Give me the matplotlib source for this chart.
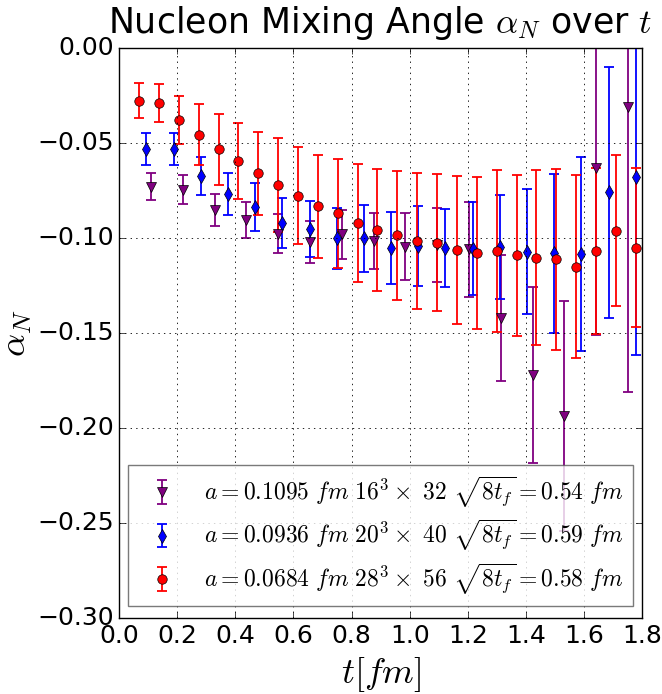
import matplotlib
matplotlib.use('Agg')
import matplotlib.pyplot as plt

plt.style.use('classic')
plt.rcParams['mathtext.fontset'] = 'cm'
plt.rcParams['font.family'] = ['DejaVu Sans']
plt.rcParams['axes.unicode_minus'] = True

# a = 0.1095 fm ensemble
t_purple = [0.1095, 0.219, 0.3285, 0.438, 0.5475, 0.657, 0.7665, 0.876, 0.9855,
            1.095, 1.2045, 1.314, 1.4235, 1.533, 1.6425, 1.752]
y_purple = [-0.0728, -0.0744, -0.0851, -0.0904, -0.0976, -0.1018, -0.0979, -0.1014,
            -0.1044, -0.1037, -0.1058, -0.1419, -0.1720, -0.1934, -0.0628, -0.0307]
e_purple = [0.0071, 0.0075, 0.0086, 0.0095, 0.0104, 0.0110, 0.0128, 0.0147, 0.0178,
            0.0195, 0.0250, 0.0330, 0.0465, 0.0606, 0.0880, 0.1500]

# a = 0.0936 fm ensemble
t_blue = [0.0936, 0.1872, 0.2808, 0.3744, 0.468, 0.5616, 0.6552, 0.7488, 0.8424, 0.936,
          1.0296, 1.1232, 1.2168, 1.3104, 1.404, 1.4976, 1.5912, 1.6848, 1.7784]
y_blue = [-0.0530, -0.0530, -0.0672, -0.0767, -0.0835, -0.0919, -0.0951, -0.1000, -0.1000,
          -0.1050, -0.1040, -0.1050, -0.1054, -0.1046, -0.1070, -0.1079, -0.1084, -0.0758,
          -0.0676]
e_blue = [0.0083, 0.0085, 0.0099, 0.0112, 0.0127, 0.0133, 0.0148, 0.0160, 0.0177, 0.0190,
          0.0210, 0.0205, 0.0244, 0.0275, 0.0330, 0.0420, 0.0510, 0.0660, 0.0940]

# a = 0.0684 fm ensemble
t_red = [0.0684, 0.1368, 0.2052, 0.2736, 0.342, 0.4104, 0.4788, 0.5472, 0.6156, 0.684,
         0.7524, 0.8208, 0.8892, 0.9576, 1.026, 1.0944, 1.1628, 1.2312, 1.2996, 1.368,
         1.4364, 1.5048, 1.5732, 1.6416, 1.71, 1.7784]
y_red = [-0.0276, -0.0290, -0.0377, -0.0455, -0.0532, -0.0595, -0.0658, -0.0721, -0.0776,
         -0.0832, -0.0868, -0.0918, -0.0955, -0.0985, -0.1016, -0.1023, -0.1060, -0.1079,
         -0.1067, -0.1090, -0.1102, -0.1111, -0.1149, -0.1067, -0.0960, -0.1050]
e_red = [0.0092, 0.0100, 0.0128, 0.0160, 0.0185, 0.0200, 0.0220, 0.0247, 0.0255, 0.0273,
         0.0286, 0.0310, 0.0320, 0.0340, 0.0358, 0.0360, 0.0390, 0.0400, 0.0428, 0.0425,
         0.0460, 0.0475, 0.0480, 0.0435, 0.0398, 0.0418]

labels = [r'$a=0.1095\ fm\ 16^3\times\ 32\ \sqrt{8t_f}=0.54\ fm$',
          r'$a=0.0936\ fm\ 20^3\times\ 40\ \sqrt{8t_f}=0.59\ fm$',
          r'$a=0.0684\ fm\ 28^3\times\ 56\ \sqrt{8t_f}=0.58\ fm$']

x_ticks = [0.0, 0.2, 0.4, 0.6, 0.8, 1.0, 1.2, 1.4, 1.6, 1.8]
y_ticks = [0.00, -0.05, -0.10, -0.15, -0.20, -0.25, -0.30]

fig = plt.figure(figsize=(6.62, 6.94), dpi=100, facecolor='white')
ax = fig.add_axes([0.1801, 0.1091, 0.7897, 0.8213])

series = [(t_purple, y_purple, e_purple, 'v', 'purple', 7.5),
          (t_blue, y_blue, e_blue, 'd', 'blue', 7),
          (t_red, y_red, e_red, 'o', 'red', 6.8)]
for (t, y, e, m, c, ms), lab in zip(series, labels):
    ax.errorbar(t, y, yerr=e, fmt=m, color=c, ecolor=c, mec='k', mfc=c, ms=ms,
                capsize=3.3, elinewidth=1.3, capthick=1.3, label=lab)

ax.set_xlim(0.0, 1.8)
ax.set_ylim(-0.30, 0.00)
ax.set_xticks(x_ticks)
ax.set_yticks(y_ticks)
ax.set_xticklabels([f'{v:.1f}' for v in x_ticks])
ax.set_yticklabels([f'{v:.2f}'.replace('-', '\u2212') for v in y_ticks])
ax.tick_params(labelsize=18, direction='in', top=True, right=True)
ax.grid(True, color='k', linestyle=':', linewidth=0.6)

ax.set_title(r'Nucleon Mixing Angle $\alpha_N$ over $t$', fontsize=25, pad=11)
ax.set_xlabel(r'$t[fm]$', fontsize=26)
ax.set_ylabel(r'$\alpha_N$', fontsize=26)
ax.yaxis.set_label_coords(-0.163, 0.5)

leg = ax.legend(loc='lower center', numpoints=1, fontsize=17, labelspacing=0.35,
                fancybox=False, frameon=True, framealpha=0.8)
leg.get_frame().set_edgecolor('0.35')

fig.savefig('out.png', dpi=100, facecolor='white')
